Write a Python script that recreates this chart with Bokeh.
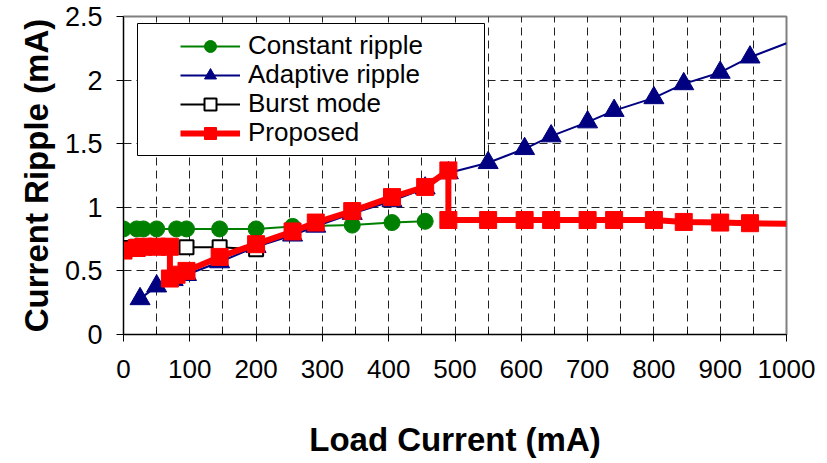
from bokeh.plotting import figure
from bokeh.models import Range1d, FixedTicker, Legend, LegendItem, BoxAnnotation
from bokeh.embed import file_html
from bokeh.resources import INLINE

# ---- data ----
const_x = [0, 20, 30, 50, 80, 95, 145, 200, 255, 345, 405, 455]
const_y = [0.83, 0.83, 0.83, 0.83, 0.83, 0.83, 0.83, 0.83, 0.85, 0.86, 0.88, 0.89]

adapt_x = [25, 50, 75, 95, 145, 200, 255, 290, 345, 405, 455, 490, 550, 605, 645,
           700, 740, 800, 845, 900, 945]
adapt_y = [0.28, 0.38, 0.43, 0.47, 0.57, 0.69, 0.78, 0.85, 0.95, 1.05, 1.15, 1.27,
           1.35, 1.46, 1.56, 1.67, 1.76, 1.86, 1.97, 2.06, 2.18]
adapt_end_x = [945, 1000]
adapt_end_y = [2.18, 2.29]

burst_x = [0, 20, 30, 50, 70, 95, 145, 200]
burst_y = [0.68, 0.69, 0.69, 0.69, 0.69, 0.685, 0.685, 0.67]

prop_x = [0, 20, 30, 50, 70, 70, 80, 95, 145, 200, 255, 290, 345, 405, 455, 490,
          490, 550, 605, 645, 700, 740, 800, 845, 900, 945]
prop_y = [0.66, 0.68, 0.69, 0.69, 0.69, 0.44, 0.47, 0.50, 0.61, 0.71, 0.81, 0.88,
          0.97, 1.08, 1.16, 1.29, 0.90, 0.90, 0.90, 0.90, 0.90, 0.90, 0.90, 0.885,
          0.88, 0.875]
prop_end_x = [945, 1000]
prop_end_y = [0.875, 0.87]

series_labels = ["Constant ripple", "Adaptive ripple", "Burst mode", "Proposed"]

x_ticks = [0, 100, 200, 300, 400, 500, 600, 700, 800, 900, 1000]
x_minor = [50, 150, 250, 350, 450, 550, 650, 750, 850, 950]
x_grid = [50, 100, 150, 200, 250, 300, 350, 400, 450, 500, 550, 600, 650, 700,
          750, 800, 850, 900, 950]
y_ticks = [0, 0.5, 1, 1.5, 2, 2.5]
y_tick_labels = ["0", "0.5", "1", "1.5", "2", "2.5"]
y_grid = [0.5, 1, 1.5, 2]

FONT = "Liberation Sans"

p = figure(width=827, height=463, output_backend="svg", toolbar_location=None,
           title=None, x_range=Range1d(0, 1000), y_range=Range1d(0, 2.5),
           min_border_left=123, min_border_right=41, min_border_top=16,
           min_border_bottom=129)
p.background_fill_color = "white"
p.border_fill_color = "white"
p.outline_line_color = "#808080"
p.outline_line_width = 2

# axes
p.xaxis.ticker = FixedTicker(ticks=x_ticks, minor_ticks=x_minor)
p.yaxis.ticker = FixedTicker(ticks=y_ticks)
p.yaxis.major_label_overrides = dict(zip(y_ticks, y_tick_labels))
for ax in (p.xaxis[0], p.yaxis[0]):
    ax.axis_line_color = "black"
    ax.major_tick_line_color = "black"
    ax.minor_tick_line_color = "black"
    ax.major_tick_in = 0
    ax.major_tick_out = 7
    ax.major_label_text_font = FONT
    ax.major_label_text_color = "black"
    ax.axis_label_text_font = FONT
    ax.axis_label_text_font_style = "bold"
    ax.axis_label_text_font_size = "33px"
    ax.axis_label_text_color = "black"
p.xaxis.minor_tick_in = 4
p.xaxis.minor_tick_out = 0
p.yaxis.minor_tick_line_color = None
p.xaxis.major_label_text_font_size = "26px"
p.yaxis.major_label_text_font_size = "27px"
p.xaxis.major_label_standoff = 18
p.yaxis.major_label_standoff = 14
p.xaxis.axis_label = "Load Current (mA)"
p.yaxis.axis_label = "Current Ripple (mA)"
p.xaxis.axis_label_standoff = 40
p.yaxis.axis_label_standoff = 7

# grid
p.xgrid.ticker = FixedTicker(ticks=x_grid)
p.ygrid.ticker = FixedTicker(ticks=y_grid)
for g in (p.xgrid[0], p.ygrid[0]):
    g.grid_line_color = "#222222"
    g.grid_line_width = 1
    g.grid_line_dash = "8 5"

# series
c_line = p.line(const_x, const_y, line_color="#008000", line_width=2)
c_pts = p.scatter(const_x, const_y, marker="circle", size=16,
                  fill_color="#008000", line_color="#008000")

a_line = p.line(adapt_x, adapt_y, line_color="#000080", line_width=2)
p.line(adapt_end_x, adapt_end_y, line_color="#000080", line_width=2)
a_pts = p.scatter(adapt_x, adapt_y, marker="triangle", size=20,
                  fill_color="#000080", line_color="#000080")

b_line = p.line(burst_x, burst_y, line_color="black", line_width=2)
b_pts = p.scatter(burst_x, burst_y, marker="square", size=14,
                  fill_color="white", line_color="black", line_width=2)

r_line = p.line(prop_x, prop_y, line_color="#FF0000", line_width=6)
p.line(prop_end_x, prop_end_y, line_color="#FF0000", line_width=6)
r_pts = p.scatter(prop_x, prop_y, marker="square", size=17,
                  fill_color="#FF0000", line_color="#FF0000")

# legend box
box = BoxAnnotation(left=14, right=361, bottom=179, top=311,
                    left_units="screen", right_units="screen",
                    bottom_units="screen", top_units="screen",
                    fill_color="white", fill_alpha=1.0,
                    line_color="black", line_width=1, line_alpha=1.0)
p.add_layout(box)

# one legend per row so rows can be spaced like the reference
row_renderers = [[c_line, c_pts], [a_line, a_pts], [b_line, b_pts], [r_line, r_pts]]
row_y = [273, 244, 215, 186]
for lab, rends, ry in zip(series_labels, row_renderers, row_y):
    lg = Legend(items=[LegendItem(label=lab, renderers=rends)],
                location=(57, ry), padding=0, margin=0, spacing=0,
                glyph_width=60, glyph_height=30, label_height=30,
                label_standoff=8, label_text_font=FONT,
                label_text_font_size="26px", label_text_color="black",
                border_line_alpha=0, background_fill_alpha=0)
    p.add_layout(lg)

open("out.html", "w").write(file_html(p, INLINE))
